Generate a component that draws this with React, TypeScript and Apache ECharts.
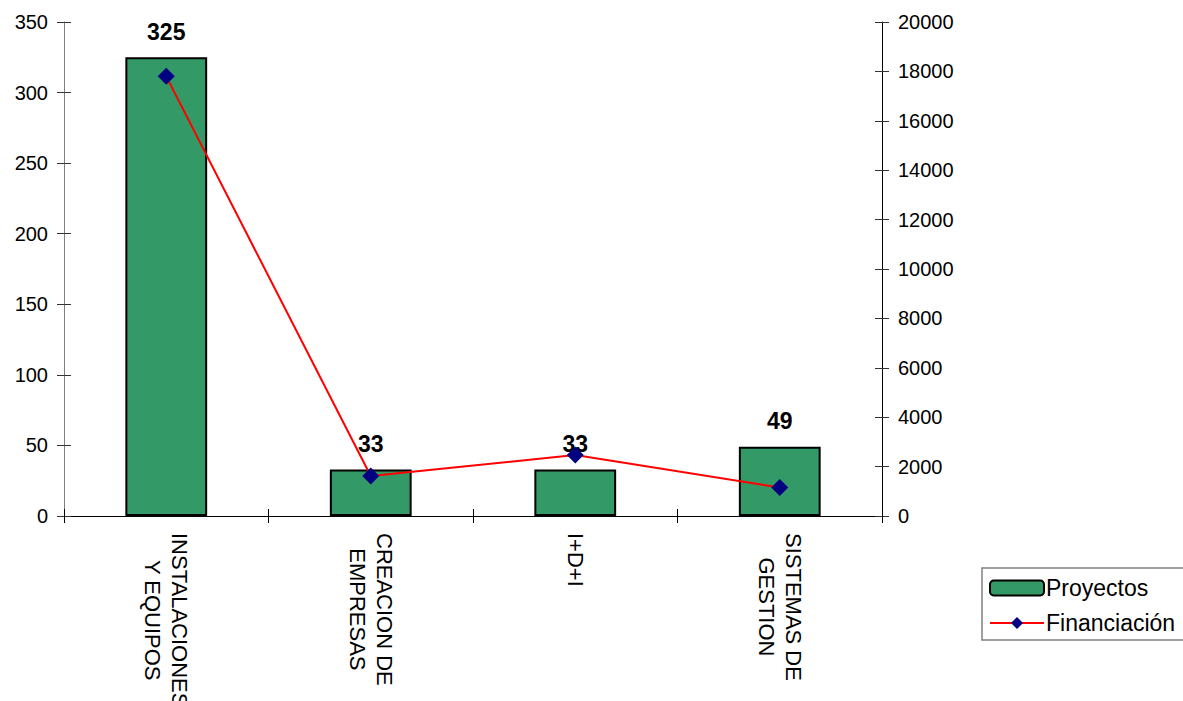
import React, { useEffect, useRef } from "react";
import * as echarts from "echarts";

// Category names (each "\n" starts a new line of the rotated label)
const categories: string[] = [
  "INSTALACIONES\nY EQUIPOS",
  "CREACION DE\nEMPRESAS",
  "I+D+I",
  "SISTEMAS DE\nGESTION",
];

// Number of projects per category (left axis)
const proyectos: number[] = [325, 33, 33, 49];

// Funding per category (right axis)
const financiacion: number[] = [17800, 1620, 2470, 1150];

const seriesNames: string[] = ["Proyectos", "Financiación"];

const FONT = "'Liberation Sans', Arial, Helvetica, sans-serif";

export default function App() {
  const ref = useRef<HTMLDivElement>(null);

  useEffect(() => {
    if (!ref.current) return;
    const chart = echarts.init(ref.current, null, { renderer: "svg" });

    const tickLabel = {
      color: "#000",
      fontSize: 20,
      fontFamily: FONT,
      margin: 16,
      formatter: (v: number) => String(v),
    };

    chart.setOption({
      animation: false,
      backgroundColor: "#fff",
      textStyle: { fontFamily: FONT },
      grid: {
        left: 64,
        right: 301,
        top: 22,
        bottom: 185,
        containLabel: false,
        outerBoundsMode: "none",
      },
      legend: {
        data: seriesNames,
        orient: "vertical",
        left: 982,
        top: 568,
        itemWidth: 54,
        itemHeight: 15,
        itemGap: 11,
        padding: [8, 10, 5, 7],
        borderColor: "#808080",
        borderWidth: 1.5,
        backgroundColor: "#fff",
        textStyle: { color: "#000", fontSize: 23, lineHeight: 24, fontFamily: FONT, padding: [0, 0, 0, -3] },
      },
      xAxis: [
        {
          type: "category",
          data: categories,
          position: "bottom",
          axisLine: { show: true, lineStyle: { color: "#000", width: 1 } },
          axisTick: { show: true, length: 7, lineStyle: { color: "#000" } },
          axisLabel: {
            rotate: -90,
            interval: 0,
            margin: 17,
            color: "#000",
            fontSize: 22,
            fontFamily: FONT,
            formatter: (v: string) =>
              v
                .split("\n")
                .map((line) => `{c|${line}}`)
                .join("\n"),
            rich: {
              c: { align: "center", fontSize: 22, lineHeight: 27, fontFamily: FONT, color: "#000" },
            },
          },
          splitLine: { show: false },
        },
        {
          // inner half of the crossing category ticks
          type: "category",
          data: categories,
          position: "bottom",
          axisLine: { show: false },
          axisTick: { show: true, inside: true, length: 7, lineStyle: { color: "#000" } },
          axisLabel: { show: false },
          splitLine: { show: false },
        },
      ],
      yAxis: [
        {
          type: "value",
          position: "left",
          min: 0,
          max: 350,
          interval: 50,
          axisLine: { show: true, lineStyle: { color: "#808080", width: 1 } },
          axisTick: { show: true, length: 7, lineStyle: { color: "#333" } },
          axisLabel: tickLabel,
          splitLine: { show: false },
        },
        {
          type: "value",
          position: "right",
          min: 0,
          max: 20000,
          interval: 2000,
          axisLine: { show: true, lineStyle: { color: "#000", width: 1 } },
          axisTick: { show: true, length: 7, lineStyle: { color: "#333" } },
          axisLabel: tickLabel,
          splitLine: { show: false },
        },
        {
          // inner half of the crossing left ticks
          type: "value",
          position: "left",
          min: 0,
          max: 350,
          interval: 50,
          axisLine: { show: false },
          axisTick: { show: true, inside: true, length: 7, lineStyle: { color: "#333" } },
          axisLabel: { show: false },
          splitLine: { show: false },
        },
        {
          // inner half of the crossing right ticks
          type: "value",
          position: "right",
          min: 0,
          max: 20000,
          interval: 2000,
          axisLine: { show: false },
          axisTick: { show: true, inside: true, length: 7, lineStyle: { color: "#333" } },
          axisLabel: { show: false },
          splitLine: { show: false },
        },
      ],
      series: [
        {
          name: seriesNames[0],
          type: "bar",
          xAxisIndex: 0,
          yAxisIndex: 0,
          data: proyectos,
          barWidth: "40%",
          itemStyle: { color: "#339966", borderColor: "#000", borderWidth: 2 },
          label: {
            show: true,
            position: "top",
            distance: 14,
            color: "#000",
            fontSize: 23,
            fontWeight: "bold",
            fontFamily: FONT,
          },
          z: 2,
        },
        {
          name: seriesNames[1],
          type: "line",
          xAxisIndex: 0,
          yAxisIndex: 1,
          data: financiacion,
          symbol: "diamond",
          symbolSize: 17,
          showAllSymbol: true,
          lineStyle: { color: "#ff0000", width: 2 },
          itemStyle: { color: "#000080" },
          z: 3,
        },
      ],
    });

    return () => chart.dispose();
  }, []);

  return (
    <div
      ref={ref}
      style={{ position: "fixed", left: 0, top: 0, width: 1183, height: 701, background: "#fff" }}
    />
  );
}
